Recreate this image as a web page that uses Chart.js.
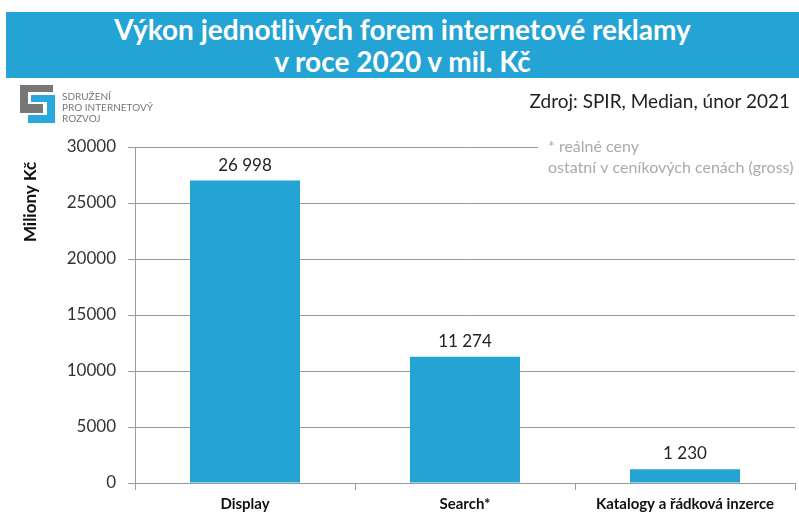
<!DOCTYPE html>
<html>
<head>
<meta charset="utf-8">
<script src="https://cdn.jsdelivr.net/npm/chart.js@4"></script>
<style>
  html, body { margin: 0; padding: 0; background: #fff; }
  #wrap { position: relative; width: 799px; height: 513px; overflow: hidden; font-family: Lato, "Open Sans", sans-serif; }
  #chart { position: absolute; left: 0; top: 0; }
  #banner { position: absolute; left: 6px; top: 12px; width: 793px; height: 66px; background: #24a4d4;
            color: #fff; font-weight: bold; font-size: 28px; line-height: 32px; text-align: center; padding-top: 1px; box-sizing: border-box; }
  #source { position: absolute; right: 9px; top: 89px; font-size: 19px; color: #222; }
  .lg { position: absolute; }
  #logoText { position: absolute; left: 62px; top: 91px; font-size: 10px; line-height: 11px; color: #777; }
</style>
</head>
<body>
<div id="wrap">
  <canvas id="chart" width="799" height="513"></canvas>
  <div id="banner">Výkon jednotlivých forem internetové reklamy<br>v roce 2020 v mil. Kč</div>
  <div class="lg" style="left:20px;top:85px;width:33px;height:7px;background:#777"></div>
  <div class="lg" style="left:20px;top:85px;width:8px;height:28px;background:#777"></div>
  <div class="lg" style="left:20px;top:104px;width:23px;height:9px;background:#777"></div>
  <div class="lg" style="left:31px;top:95px;width:24px;height:7px;background:#2aa7dc"></div>
  <div class="lg" style="left:47px;top:95px;width:8px;height:28px;background:#2aa7dc"></div>
  <div class="lg" style="left:28px;top:115px;width:27px;height:8px;background:#2aa7dc"></div>
  <div id="logoText">SDRUŽENÍ<br>PRO INTERNETOVÝ<br>ROZVOJ</div>
  <div id="source">Zdroj: SPIR, Median, únor 2021</div>
</div>
<script>
const categories = ['Display', 'Search*', 'Katalogy a řádková inzerce'];
const values = [26998, 11274, 1230];
const valueLabels = ['26 998', '11 274', '1 230'];
const yTicks = [0, 5000, 10000, 15000, 20000, 25000, 30000];
const noteLines = ['* reálné ceny', 'ostatní v ceníkových cenách (gross)'];
const yTitle = 'Miliony Kč';

const FONT = 'Lato, "Open Sans", sans-serif';
const BLUE = '#24a4d4';
const GRID = '#9a9a9a';

const extras = {
  id: 'extras',
  afterDatasetsDraw(chart) {
    const ctx = chart.ctx;
    const meta = chart.getDatasetMeta(0);
    ctx.save();
    ctx.fillStyle = '#222';
    ctx.font = '17px ' + FONT;
    ctx.textAlign = 'center';
    ctx.textBaseline = 'bottom';
    meta.data.forEach((bar, i) => {
      ctx.fillText(valueLabels[i], bar.x, bar.y - 7);
    });
    ctx.restore();
  },
  afterDraw(chart) {
    const ctx = chart.ctx;
    const area = chart.chartArea;
    ctx.save();
    // note box covers the top grid line
    ctx.fillStyle = '#fff';
    ctx.fillRect(538, area.top - 6, area.right - 536, 40);
    ctx.fillStyle = '#aaa';
    ctx.font = '16px ' + FONT;
    ctx.textAlign = 'left';
    ctx.textBaseline = 'middle';
    ctx.fillText(noteLines[0], 548, area.top);
    ctx.fillText(noteLines[1], 548, area.top + 21);
    // y axis title
    ctx.translate(31, 202);
    ctx.rotate(-Math.PI / 2);
    ctx.fillStyle = '#111';
    ctx.font = 'bold 17px ' + FONT;
    ctx.textAlign = 'center';
    ctx.fillText(yTitle, 0, 0);
    ctx.restore();
  }
};

new Chart(document.getElementById('chart'), {
  type: 'bar',
  data: {
    labels: categories,
    datasets: [{
      data: values,
      backgroundColor: BLUE,
      categoryPercentage: 1,
      barPercentage: 0.5
    }]
  },
  options: {
    responsive: false,
    animation: false,
    layout: { padding: { top: 147, right: 4, left: 0, bottom: 0 } },
    plugins: { legend: { display: false }, tooltip: { enabled: false } },
    scales: {
      x: {
        grid: { display: true, drawOnChartArea: false, color: GRID, tickLength: 7 },
        border: { color: GRID },
        ticks: { color: '#111', font: { family: FONT, size: 15, weight: 'bold' }, padding: 5 },
        afterFit(scale) { scale.height = 30; }
      },
      y: {
        min: 0,
        max: 30000,
        afterBuildTicks(scale) { scale.ticks = yTicks.map(v => ({ value: v })); },
        grid: { color: GRID, tickLength: 7 },
        border: { color: GRID },
        ticks: { color: '#333', font: { family: FONT, size: 17 }, padding: 12, callback: v => String(v) },
        afterFit(scale) { scale.width = 135; }
      }
    }
  },
  plugins: [extras]
});
</script>
</body>
</html>
